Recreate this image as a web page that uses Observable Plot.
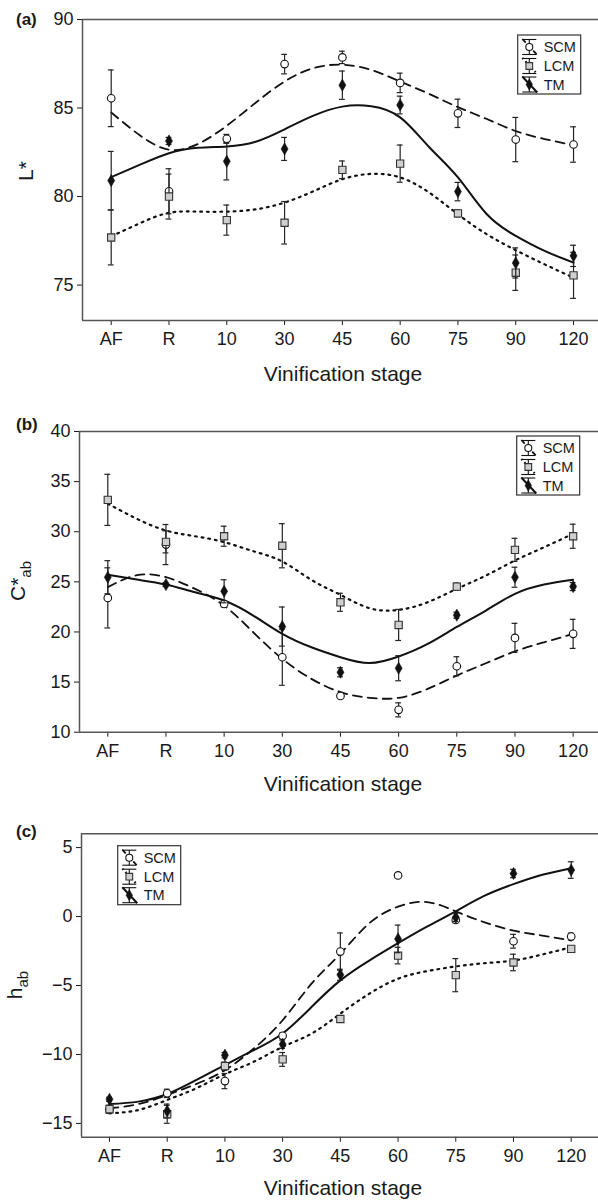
<!DOCTYPE html>
<html>
<head>
<meta charset="utf-8">
<script src="https://cdn.jsdelivr.net/npm/d3@7"></script>
<script src="https://cdn.jsdelivr.net/npm/@observablehq/plot@0.6"></script>
<style>
  html, body { margin: 0; padding: 0; background: #fff; }
  #chart { width: 598px; height: 1202px; position: relative; overflow: hidden; }
  #chart svg { display: block; }
</style>
</head>
<body>
<div id="chart"></div>
<script>
// ---------- data ----------
const stages = ["AF", "R", "10", "30", "45", "60", "75", "90", "120"];
const seriesNames = ["SCM", "LCM", "TM"];
// positions (stage index) where the fitted curves were read
const fitX = [0, 0.5, 1, 1.5, 2, 2.5, 3, 3.5, 4, 4.5, 5, 5.5, 6, 6.5, 7, 7.5, 8];

// (a) L*
const L_SCM    = [85.55, 80.3, 83.26, 87.48, 87.86, 86.42, 84.7, 83.22, 82.94];
const L_SCM_sd = [1.6, 1.27, 0.25, 0.55, 0.35, 0.55, 0.8, 1.25, 1.0];
const L_LCM    = [77.69, 80.0, 78.67, 78.52, 81.51, 81.86, 79.05, 75.7, 75.55];
const L_LCM_sd = [1.55, 1.27, 0.85, 1.2, 0.5, 1.05, 0.2, 1.0, 1.3];
const L_TM     = [80.9, 83.14, 81.99, 82.69, 86.29, 85.17, 80.28, 76.25, 76.65];
const L_TM_sd  = [1.65, 0.2, 1.05, 0.65, 0.8, 0.5, 0.52, 0.85, 0.6];
const L_fit_SCM = [84.75, 83.45, 82.65, 82.97, 84.0, 85.3, 86.5, 87.25, 87.45, 87.15, 86.5, 85.8, 85.05, 84.38, 83.7, 83.25, 82.9];
const L_fit_LCM = [77.75, 78.5, 79.08, 79.15, 79.15, 79.28, 79.66, 80.3, 80.98, 81.28, 81.08, 80.23, 79.0, 77.87, 76.97, 76.17, 75.42];
const L_fit_TM  = [81.1, 81.8, 82.45, 82.75, 82.83, 83.1, 83.8, 84.57, 85.08, 85.1, 84.47, 82.8, 81.08, 79.0, 77.78, 76.93, 76.27];

// (b) C*ab
const C_SCM    = [23.4, 28.72, 22.8, 17.48, 13.62, 12.23, 16.58, 19.41, 19.81];
const C_SCM_sd = [3.0, 2.0, 0.3, 2.8, 0.2, 0.7, 0.95, 1.45, 1.45];
const C_LCM    = [33.18, 28.99, 29.55, 28.6, 22.96, 20.7, 24.53, 28.19, 29.55];
const C_LCM_sd = [2.55, 1.1, 1.0, 2.2, 0.9, 1.55, 0.35, 1.15, 1.2];
const C_TM     = [25.46, 24.73, 24.06, 20.54, 15.98, 16.38, 21.67, 25.46, 24.53];
const C_TM_sd  = [1.65, 0.2, 1.15, 1.95, 0.45, 1.25, 0.3, 1.0, 0.4];
const C_fit_SCM = [24.47, 25.66, 25.46, 24.3, 22.63, 19.97, 17.32, 15.32, 14.0, 13.43, 13.43, 14.32, 15.65, 16.88, 18.07, 18.97, 19.81];
const C_fit_LCM = [32.8, 31.29, 30.12, 29.55, 28.96, 28.06, 27.03, 25.2, 23.7, 22.37, 22.2, 22.97, 24.3, 25.63, 27.13, 28.45, 29.8];
const C_fit_TM  = [25.7, 25.23, 24.73, 23.96, 23.14, 21.64, 19.81, 18.47, 17.48, 16.9, 17.55, 18.81, 20.5, 22.14, 23.8, 24.73, 25.2];

// (c) hab
const h_SCM    = [-14.0, -12.82, -11.93, -8.65, -2.54, 2.98, -0.25, -1.79, -1.45];
const h_SCM_sd = [0.2, 0.3, 0.55, 0.2, 1.35, 0.1, 0.2, 0.5, 0.25];
const h_LCM    = [-13.97, -14.34, -10.85, -10.36, -7.43, -2.83, -4.25, -3.33, -2.34];
const h_LCM_sd = [0.3, 0.65, 0.3, 0.5, 0.2, 0.6, 1.2, 0.6, 0.15];
const h_TM     = [-13.25, -14.1, -10.05, -9.26, -4.22, -1.62, -0.06, 3.12, 3.37];
const h_TM_sd  = [0.15, 0.5, 0.2, 0.3, 0.4, 1.0, 0.3, 0.3, 0.6];
const h_fit_SCM = [-13.9, -13.6, -12.94, -12.15, -11.14, -9.57, -7.52, -4.87, -2.7, -0.49, 0.72, 1.05, 0.38, -0.42, -1.02, -1.38, -1.74];
const h_fit_LCM = [-14.27, -14.03, -13.3, -12.46, -11.43, -10.53, -9.45, -8.49, -7.04, -5.6, -4.51, -3.96, -3.62, -3.38, -3.19, -2.75, -2.23];
const h_fit_TM  = [-13.6, -13.42, -12.87, -11.86, -10.77, -9.69, -8.48, -6.56, -4.63, -3.19, -1.93, -0.73, 0.38, 1.51, 2.35, 3.03, 3.51];

const L_ticks = [75, 80, 85, 90];
const C_ticks = [10, 15, 20, 25, 30, 35, 40];
const h_ticks = [-15, -10, -5, 0, 5];

// ---------- styles ----------
const FONT = "'Liberation Sans', Arial, Helvetica, sans-serif";
const INK = "#1a1a1a";
const lineStyle = [
  {strokeWidth: 1.8, dash: "9,6"},     // SCM dashed
  {strokeWidth: 2.2, dash: "1.8,4.9"}, // LCM dotted
  {strokeWidth: 2.0, dash: null}       // TM solid
];
const dotStyle = [
  {symbol: "circle", r: 3.8, fill: "white", stroke: "#111", strokeWidth: 1.1},
  {symbol: "square", r: 4.1, fill: "#cfcfcf", stroke: "#333", strokeWidth: 1.1},
  {symbol: "diamond", r: 3.7, fill: "#111", stroke: "#111", strokeWidth: 0.5}
];

function panel(cfg) {
  const pts = [];
  const fits = [];
  cfg.series.forEach((s, k) => {
    s.values.forEach((v, i) => pts.push({k, i, v, e: s.sd[i]}));
    s.fit.forEach((v, j) => fits.push({k, x: fitX[j], v}));
  });
  const marks = [
    Plot.ruleY([cfg.yDomain[1]], {stroke: "#555", strokeWidth: 1.5}),
    Plot.ruleY([cfg.yDomain[0]], {stroke: "#555", strokeWidth: 1.5}),
    Plot.ruleX([cfg.xDomain[0]], {stroke: "#555", strokeWidth: 1.5})
  ];
  [0, 1, 2].forEach(k => {
    marks.push(Plot.line(fits.filter(d => d.k === k), {
      x: "x", y: "v", curve: "natural", stroke: "#111",
      strokeWidth: lineStyle[k].strokeWidth,
      strokeDasharray: lineStyle[k].dash || undefined
    }));
  });
  [0, 1, 2].forEach(k => {
    const p = pts.filter(d => d.k === k);
    marks.push(Plot.ruleX(p, {x: "i", y1: d => d.v - d.e, y2: d => d.v + d.e, stroke: "#222", strokeWidth: 1.2}));
    marks.push(Plot.ruleY(p, {y: d => d.v + d.e, x1: d => d.i - 0.05, x2: d => d.i + 0.05, stroke: "#222", strokeWidth: 1.2}));
    marks.push(Plot.ruleY(p, {y: d => d.v - d.e, x1: d => d.i - 0.05, x2: d => d.i + 0.05, stroke: "#222", strokeWidth: 1.2}));
    marks.push(Plot.dot(p, {x: "i", y: "v", ...dotStyle[k]}));
  });

  const svg = Plot.plot({
    width: 598,
    height: cfg.height,
    marginLeft: cfg.marginLeft,
    marginRight: 0,
    marginTop: cfg.marginTop,
    marginBottom: cfg.marginBottom,
    style: {fontFamily: FONT, fontSize: "18px", color: INK, background: "white", overflow: "visible"},
    x: {type: "linear", domain: cfg.xDomain, ticks: d3.range(stages.length), tickFormat: i => stages[i],
        tickSize: 5, tickPadding: 7, label: null},
    y: {domain: cfg.yDomain, ticks: cfg.yTicks, tickSize: 5, tickPadding: 4, label: null},
    marks
  });

  const s = d3.select(svg);
  // panel letter
  s.append("text").attr("x", 16).attr("y", cfg.titleY).attr("text-anchor", "start")
    .attr("font-family", FONT).attr("font-size", 17).attr("font-weight", "bold").attr("fill", INK)
    .text(cfg.title);
  // y label (rotated, with optional subscript)
  const yl = s.append("text")
    .attr("transform", `translate(${cfg.yLabelX},${cfg.yLabelY}) rotate(-90)`)
    .attr("text-anchor", "middle").attr("font-family", FONT).attr("font-size", 21).attr("fill", INK);
  yl.append("tspan").text(cfg.yLabel[0]);
  if (cfg.yLabel[1]) yl.append("tspan").attr("dy", 6).attr("font-size", 15).text(cfg.yLabel[1]);
  // x label
  s.append("text").attr("x", 343).attr("y", cfg.xLabelY).attr("text-anchor", "middle")
    .attr("font-family", FONT).attr("font-size", 21).attr("fill", INK).text("Vinification stage");

  // legend
  const g = s.append("g").attr("transform", `translate(${cfg.legend[0]},${cfg.legend[1]})`)
    .attr("text-anchor", "start");
  g.append("rect").attr("width", 63).attr("height", 59).attr("fill", "white")
    .attr("stroke", "#333").attr("stroke-width", 1.2);
  const rowY = [12, 31, 49.5];
  seriesNames.forEach((name, k) => {
    const cy = rowY[k], cx = 11.6;
    const ic = g.append("g").attr("stroke", "#111").attr("fill", "none");
    ic.append("line").attr("x1", cx - 7).attr("x2", cx + 7).attr("y1", cy - 7.5).attr("y2", cy - 7.5).attr("stroke-width", 1.1);
    ic.append("line").attr("x1", cx - 7).attr("x2", cx + 7).attr("y1", cy + 7.5).attr("y2", cy + 7.5).attr("stroke-width", 1.1);
    ic.append("line").attr("x1", cx).attr("x2", cx).attr("y1", cy - 7.5).attr("y2", cy + 7.5).attr("stroke-width", 1.1);
    const diag = ic.append("line").attr("x1", cx - 7).attr("y1", cy - 8).attr("x2", cx + 8).attr("y2", cy + 8)
      .attr("stroke-width", lineStyle[k].strokeWidth);
    if (k === 0) diag.attr("stroke-dasharray", "5,3");
    if (k === 1) diag.attr("stroke-dasharray", "1.5,3");
    const st = dotStyle[k];
    const sym = {circle: d3.symbolCircle, square: d3.symbolSquare, diamond: d3.symbolDiamond}[st.symbol];
    g.append("path").attr("transform", `translate(${cx},${cy})`)
      .attr("d", d3.symbol(sym, Math.PI * st.r * st.r * 0.85)())
      .attr("fill", st.fill).attr("stroke", st.stroke).attr("stroke-width", st.strokeWidth);
    g.append("text").attr("x", 26).attr("y", cy).attr("dy", "0.36em").attr("text-anchor", "start")
      .attr("font-family", FONT).attr("font-size", 14.5).attr("fill", INK).text(name);
  });
  return svg;
}

const chart = document.getElementById("chart");

chart.appendChild(panel({
  title: "(a)", titleY: 25,
  height: 395, marginTop: 19, marginBottom: 75, marginLeft: 82,
  xDomain: [-0.4966, 8.432], yDomain: [73, 90], yTicks: L_ticks,
  yLabel: ["L*"], yLabelX: 33, yLabelY: 171, xLabelY: 381,
  legend: [517.7, 35],
  series: [
    {values: L_SCM, sd: L_SCM_sd, fit: L_fit_SCM},
    {values: L_LCM, sd: L_LCM_sd, fit: L_fit_LCM},
    {values: L_TM, sd: L_TM_sd, fit: L_fit_TM}
  ]
}));

chart.appendChild(panel({
  title: "(b)", titleY: 35,
  height: 407, marginTop: 36, marginBottom: 70.3, marginLeft: 79,
  xDomain: [-0.4865, 8.436], yDomain: [10, 40], yTicks: C_ticks,
  yLabel: ["C*", "ab"], yLabelX: 25, yLabelY: 186, xLabelY: 396,
  legend: [516.7, 41],
  series: [
    {values: C_SCM, sd: C_SCM_sd, fit: C_fit_SCM},
    {values: C_LCM, sd: C_LCM_sd, fit: C_fit_LCM},
    {values: C_TM, sd: C_TM_sd, fit: C_fit_TM}
  ]
}));

chart.appendChild(panel({
  title: "(c)", titleY: 35,
  height: 400, marginTop: 31.3, marginBottom: 65.3, marginLeft: 81,
  xDomain: [-0.485, 8.473], yDomain: [-16, 6], yTicks: h_ticks,
  yLabel: ["h", "ab"], yLabelX: 22, yLabelY: 183, xLabelY: 393,
  legend: [117.7, 43.7],
  series: [
    {values: h_SCM, sd: h_SCM_sd, fit: h_fit_SCM},
    {values: h_LCM, sd: h_LCM_sd, fit: h_fit_LCM},
    {values: h_TM, sd: h_TM_sd, fit: h_fit_TM}
  ]
}));
</script>
</body>
</html>
